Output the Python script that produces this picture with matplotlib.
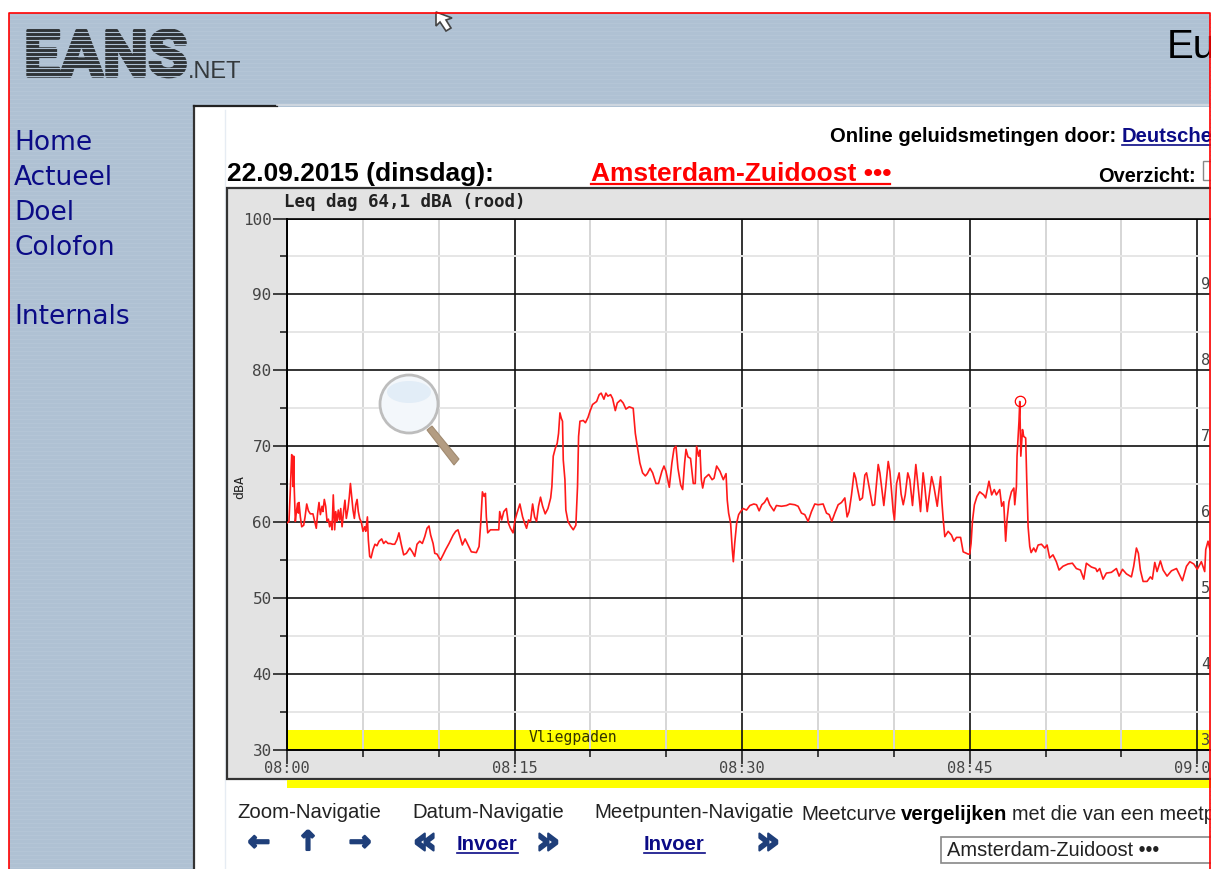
import matplotlib
matplotlib.use("Agg")
import matplotlib.pyplot as plt
import matplotlib.patheffects as pe
from matplotlib.patches import Rectangle, Circle, Polygon, Ellipse

# minutes after 08:00 and level in dBA
minutes = [0.00,0.13,0.22,0.31,0.35,0.40,0.44,0.48,0.55,0.62,0.70,0.75,0.79,0.88,0.97,1.10,1.19,1.30,1.41,1.54,
    1.71,1.85,1.93,2.02,2.11,2.20,2.31,2.37,2.46,2.55,2.64,2.73,2.81,2.90,2.97,3.05,3.14,3.21,3.30,3.38,
    3.47,3.54,3.63,3.74,3.82,3.91,4.02,4.11,4.18,4.26,4.35,4.44,4.53,4.62,4.70,4.79,4.90,5.01,5.12,5.19,
    5.30,5.36,5.45,5.54,5.67,5.80,5.93,6.07,6.24,6.37,6.51,6.66,6.81,6.95,7.10,7.25,7.38,7.52,7.69,7.87,
    8.09,8.26,8.42,8.57,8.75,8.92,9.08,9.23,9.36,9.47,9.63,9.74,9.89,10.11,10.29,10.46,10.68,10.95,11.12,11.27,
    11.43,11.56,11.74,11.93,12.15,12.48,12.66,12.77,12.88,12.99,13.08,13.14,13.23,13.41,13.69,13.96,14.02,14.15,14.29,14.46,
    14.59,14.73,14.90,15.03,15.16,15.35,15.53,15.66,15.79,15.92,16.05,16.19,16.32,16.45,16.58,16.71,16.85,17.02,17.20,17.38,
    17.46,17.55,17.68,17.81,17.90,17.99,18.08,18.16,18.21,18.32,18.38,18.52,18.69,18.87,19.04,19.15,19.22,19.31,19.53,19.67,
    19.84,19.97,20.14,20.41,20.58,20.71,20.89,21.02,21.15,21.33,21.46,21.64,21.77,21.99,22.16,22.34,22.56,22.82,22.96,23.09,
    23.26,23.44,23.62,23.75,23.93,24.10,24.32,24.49,24.71,24.85,24.98,25.20,25.37,25.51,25.64,25.77,25.95,26.08,26.21,26.30,
    26.43,26.60,26.78,26.91,27.00,27.13,27.22,27.31,27.40,27.53,27.80,28.02,28.15,28.32,28.54,28.76,28.94,29.02,29.11,29.24,
    29.35,29.42,29.51,29.64,29.77,29.90,30.07,30.29,30.51,30.77,30.95,31.12,31.30,31.47,31.65,31.82,32.09,32.26,32.59,32.92,
    33.14,33.47,33.69,33.91,34.13,34.35,34.57,34.79,35.01,35.34,35.56,35.74,35.91,36.11,36.33,36.55,36.77,36.92,37.05,37.21,
    37.38,37.49,37.58,37.76,37.93,38.09,38.20,38.33,38.59,38.73,38.97,39.08,39.34,39.47,39.63,39.74,39.96,40.04,40.18,40.35,
    40.48,40.62,40.75,40.92,41.05,41.23,41.45,41.58,41.76,41.93,42.04,42.20,42.49,42.64,42.86,43.08,43.16,43.25,43.36,43.58,
    43.80,43.96,44.13,44.40,44.57,44.90,45.00,45.09,45.18,45.31,45.48,45.66,45.92,46.05,46.27,46.45,46.62,46.76,46.98,47.11,
    47.24,47.37,47.46,47.59,47.75,47.91,47.97,48.08,48.12,48.25,48.30,48.37,48.48,48.56,48.69,48.76,48.85,48.96,49.05,49.22,
    49.35,49.51,49.73,49.95,50.10,50.27,50.49,50.71,50.89,51.15,51.48,51.77,52.03,52.30,52.52,52.69,53.02,53.31,53.40,53.57,
    53.79,54.01,54.34,54.67,54.85,55.07,55.33,55.66,55.81,55.99,56.12,56.25,56.43,56.69,56.91,57.04,57.20,57.35,57.57,57.75,
    58.01,58.30,58.63,59.02,59.29,59.51,59.77,60.00,60.27,60.49,60.56,60.71,60.84]
dba = [59.9,60.1,64.3,68.9,68.2,64.7,68.7,64.3,60.1,61.4,62.5,61.2,62.6,60.7,59.4,59.6,60.7,62.4,61.5,61.1,
    61.1,59.9,59.2,61.2,62.6,61.0,62.1,61.4,63.0,62.1,60.1,60.4,59.4,60.1,59.0,63.6,59.0,61.4,60.1,61.6,
    60.3,61.8,59.4,61.6,62.9,60.5,61.8,63.4,65.1,63.4,61.6,60.5,62.3,63.0,61.4,60.5,60.0,58.8,59.4,58.8,
    60.7,57.7,55.5,55.3,56.4,57.1,56.9,57.5,57.8,57.2,57.5,57.2,57.2,57.1,57.1,57.7,58.6,57.2,55.7,55.9,
    56.6,56.1,55.5,57.1,57.5,57.2,58.1,59.2,59.5,58.3,57.2,55.9,55.8,55.0,55.7,56.4,57.2,58.3,58.8,59.0,
    57.9,57.0,57.8,57.0,56.1,56.0,56.8,59.9,64.0,63.4,63.8,60.7,58.6,59.0,59.0,59.0,61.4,60.3,61.4,61.8,
    59.9,59.2,58.6,60.3,61.2,62.4,60.7,59.9,59.2,60.3,60.1,62.4,60.7,60.1,62.1,63.3,62.1,61.1,61.8,63.2,
    64.7,68.7,69.7,70.4,71.7,74.4,73.7,73.3,68.2,65.6,61.6,60.1,59.5,59.0,59.6,64.7,71.3,73.3,73.4,73.1,
    73.8,74.6,75.5,75.9,76.8,77.0,76.2,77.0,76.6,76.8,76.3,74.7,75.7,76.1,75.7,74.9,75.2,75.0,71.7,70.0,
    67.8,66.5,66.1,66.4,67.1,66.5,65.1,65.1,66.7,67.4,66.7,64.6,67.8,69.7,70.0,67.1,64.9,64.3,67.8,69.6,
    68.6,68.4,65.1,65.1,70.0,68.7,69.5,65.6,64.5,65.8,66.3,65.6,65.8,67.4,66.7,65.6,66.4,62.9,61.2,59.9,
    56.4,54.8,57.2,59.9,61.0,61.4,61.8,61.6,62.2,62.4,62.3,61.5,62.3,62.6,63.2,62.3,61.5,62.2,62.1,62.2,
    62.4,62.3,62.1,61.2,61.0,60.1,61.4,62.4,62.3,62.4,61.2,61.0,60.1,61.2,62.3,62.6,63.2,60.7,61.4,63.6,
    66.5,65.8,64.7,62.9,63.2,66.2,66.5,65.1,62.2,62.3,67.6,66.5,62.2,64.7,68.0,66.7,61.4,60.3,65.1,66.5,
    63.7,62.3,63.6,66.5,65.6,62.2,67.6,65.1,61.4,66.5,64.7,61.4,66.0,64.7,62.1,66.0,62.9,60.5,58.1,58.8,
    58.3,57.5,58.0,58.0,56.1,55.8,55.8,57.2,60.1,62.3,63.4,64.0,63.6,63.2,65.4,63.6,64.3,63.6,64.3,62.1,
    62.7,57.5,60.3,62.7,64.0,64.5,62.3,64.7,68.7,73.3,75.9,68.7,72.2,71.3,71.1,65.6,59.4,56.8,56.0,56.6,
    56.1,57.0,57.1,56.6,57.0,55.3,55.7,54.8,53.7,54.2,54.5,54.6,53.9,53.7,52.5,54.6,54.1,53.9,53.5,53.9,
    52.5,53.3,53.4,53.9,52.9,53.8,53.2,52.8,54.2,56.6,55.9,53.7,52.2,52.2,52.8,52.5,54.7,53.5,54.9,53.7,
    52.9,53.6,53.9,52.3,54.2,54.8,54.5,53.8,54.8,53.5,56.4,57.5,56.4]
peak_minute = [48.30]
peak_dba = [76.0]

y_major = [30, 40, 50, 60, 70, 80, 90, 100]
y_minor = [35, 45, 55, 65, 75, 85, 95]
x_major = [0, 15, 30, 45, 60]
x_minor = [5, 10, 20, 25, 35, 40, 50, 55]
x_labels = ["08:00", "08:15", "08:30", "08:45", "09:00"]
right_labels = [90, 80, 70, 60, 50, 40, 30]
menu_items = ["Home", "Actueel", "Doel", "Colofon", "Internals"]
menu_y = [143, 178, 213, 248, 317]

BLUE = "#afc1d3"
NAVY = "#0b0b86"
ARROW = "#1f3f7a"
SANS = ["Liberation Sans", "DejaVu Sans"]
MONO = "DejaVu Sans Mono"

fig = plt.figure(figsize=(12.18, 8.69), dpi=100, facecolor="white")

# page furniture, in screenshot pixels
page = fig.add_axes([0, 0, 1, 1], zorder=0)
page.set_xlim(0, 1218)
page.set_ylim(869, 0)
page.axis("off")

page.add_patch(Rectangle((9, 13), 1201, 856, fc=BLUE, ec="none"))
for y in range(15, 869, 4):
    page.plot([9, 1210], [y, y], color="#b5c6d7", lw=0.6, zorder=1)

# logo
page.text(24, 76, "EANS", family=["Roboto", "Liberation Sans"], weight="bold", fontsize=46,
    color="#2e3336", va="baseline", zorder=2,
    path_effects=[pe.withStroke(linewidth=2.5, foreground="#2e3336")])
for y in range(28, 80, 4):
    page.plot([20, 190], [y, y], color=BLUE, lw=0.8, zorder=3)
page.text(188, 78, ".NET", family=SANS, fontsize=17, color="#34393c", va="baseline", zorder=3)
page.text(1167, 47, "Eu", family=SANS, fontsize=29, color="black", va="center", zorder=3)

for name, y in zip(menu_items, menu_y):
    page.text(14, y, name, family="DejaVu Sans", fontsize=19, color=NAVY, va="center", zorder=3)

# white content panel
page.add_patch(Rectangle((195, 107), 1015, 762, fc="white", ec="none", zorder=3))
page.plot([194, 194], [106, 869], color="#333333", lw=1.6, zorder=4)
page.plot([194, 277], [106, 106], color="#222222", lw=1.6, zorder=4)
page.plot([277, 1210], [105, 105], color="#d5dbe2", lw=1.2, zorder=4)
page.plot([225, 225], [110, 869], color="#e6ecf3", lw=1, zorder=4)

page.text(830, 136, "Online geluidsmetingen door:", family=SANS, weight="bold", fontsize=14.6, va="center", zorder=5)
page.text(1122, 136, "Deutsche", family=SANS, weight="bold", fontsize=14.6, color=NAVY, va="center", zorder=5)
page.plot([1122, 1210], [145, 145], color=NAVY, lw=1.2, zorder=5)
page.text(227, 174, "22.09.2015 (dinsdag):", family=SANS, weight="bold", fontsize=19, va="center", zorder=5)
page.text(591, 174, "Amsterdam-Zuidoost \u2022\u2022\u2022", family=SANS, weight="bold", fontsize=19, color="#ff0000", va="center", zorder=5)
page.plot([591, 890], [184, 184], color="#ff0000", lw=1.6, zorder=5)
page.text(1098, 176, "Overzicht:", family=SANS, weight="bold", fontsize=14.4, va="center", zorder=5)
page.add_patch(Rectangle((1203, 161), 12, 19, fc="white", ec="#888888", lw=1, zorder=5))

# grey chart background and the yellow strip under it
page.add_patch(Rectangle((227, 188), 990, 591, fc="#e3e3e3", ec="#333333", lw=1.6, zorder=4))
page.add_patch(Rectangle((287, 780), 931, 8, fc="#ffff00", ec="none", zorder=4))
page.text(284, 202, "Leq dag 64,1 dBA (rood)", family=MONO, weight="bold", fontsize=12.6, color="#222222", va="center", zorder=5)
page.text(240, 487, "dBA", family=MONO, fontsize=9.5, color="#222222", rotation=90, ha="center", va="center", zorder=5)

# bottom navigation
page.text(237, 812, "Zoom-Navigatie", family=SANS, fontsize=14.7, color="#222222", va="center", zorder=5)
page.text(412, 812, "Datum-Navigatie", family=SANS, fontsize=14.7, color="#222222", va="center", zorder=5)
page.text(594, 812, "Meetpunten-Navigatie", family=SANS, fontsize=14.7, color="#222222", va="center", zorder=5)
page.text(801, 815, "Meetcurve", family=SANS, fontsize=14.7, color="#222222", va="center", zorder=5)
page.text(901, 815, "vergelijken", family=SANS, weight="bold", fontsize=14.7, color="black", va="center", zorder=5)
page.text(1012, 815, "met die van een meetp", family=SANS, fontsize=14.3, color="#222222", va="center", zorder=5)
heavy = [pe.withStroke(linewidth=1.5, foreground=ARROW)]
for glyph, x, size in [("\u2190", 259, 19), ("\u2191", 308, 19), ("\u2192", 360, 19),
        ("\u00ab", 425, 27), ("\u00bb", 548, 27), ("\u00bb", 768, 27)]:
    page.text(x, 843, glyph, family="DejaVu Sans", weight="bold", fontsize=size, color=ARROW,
        ha="center", va="center", zorder=5, path_effects=heavy)
for x0, x1 in [(457, 518), (644, 705)]:
    page.text(x0, 845, "Invoer", family=SANS, weight="bold", fontsize=14.6, color=NAVY, va="center", zorder=5)
    page.plot([x0, x1], [853, 853], color=NAVY, lw=1.2, zorder=5)
page.add_patch(Rectangle((941, 837), 280, 26, fc="white", ec="#888888", lw=1.2, zorder=5))
page.text(947, 851, "Amsterdam-Zuidoost \u2022\u2022\u2022", family=SANS, fontsize=14.4, color="#222222", va="center", zorder=6)

# the measurement plot
ax = fig.add_axes([287 / 1218, 1 - 750 / 869, (1210 - 287) / 1218, (750 - 218.5) / 869], zorder=1)
ax.set_xlim(0, 60.84)
ax.set_ylim(30, 100)
ax.set_axisbelow(True)
ax.axhspan(30, 32.6, color="#ffff00", lw=0, zorder=0.2)
ax.set_xticks(x_major)
ax.set_xticklabels(x_labels, family=MONO, fontsize=11, color="#444444")
ax.set_xticks(x_minor, minor=True)
ax.set_yticks(y_major)
ax.set_yticklabels([str(v) for v in y_major], family=MONO, fontsize=11.5, color="#444444")
ax.set_yticks(y_minor, minor=True)
ax.grid(which="major", color="#111111", lw=1.2)
ax.grid(which="minor", axis="x", color="#d6d6d6", lw=1.4)
ax.grid(which="minor", axis="y", color="#e6e6e6", lw=1.4)
ax.tick_params(which="major", length=10, width=1.2, color="#222222")
ax.tick_params(which="minor", length=5, width=1.2, color="#222222")
ax.tick_params(axis="x", which="major", pad=-2)
ax.tick_params(axis="y", which="major", pad=1)
ax.spines["right"].set_visible(False)
ax.spines["left"].set_linewidth(1.4)
ax.spines["bottom"].set_linewidth(1.4)
ax.spines["top"].set_linewidth(1.2)

ax.plot(minutes, dba, color="#ff1a1a", lw=1.2, zorder=3)
ax.plot(peak_minute, peak_dba, "o", mfc="none", mec="#ff0000", mew=0.9, ms=7.5, zorder=3)
ax.text(15.95, 31.6, "Vliegpaden", family=MONO, fontsize=10.6, color="#333300", ha="left", va="center", zorder=4)
for v in right_labels:
    ax.text(60.25, v + 1.25, str(v), family=MONO, fontsize=11, color="#444444", va="center", clip_on=True, zorder=4)

# things lying on top: magnifier, mouse pointer, right-hand cut and red frame
top = fig.add_axes([0, 0, 1, 1], zorder=2)
top.set_xlim(0, 1218)
top.set_ylim(869, 0)
top.axis("off")
top.patch.set_alpha(0)

top.add_patch(Polygon([(427, 430), (432, 426), (459, 459), (454, 465)], closed=True, fc="#b39c82", ec="#a08a70", lw=0.8))
top.add_patch(Circle((409, 404), 29, fc="#f3f7fb", ec="#bdbdbd", lw=2))
top.add_patch(Ellipse((409, 392), 44, 22, fc="#e2edf7", ec="none"))
top.add_patch(Polygon([(436, 12), (436, 26), (440, 22), (446, 31), (451, 28), (446, 20), (452, 18)],
    closed=True, fc="white", ec="#444444", lw=1.2))

top.add_patch(Rectangle((1211, 0), 7, 869, fc="white", ec="none"))
top.plot([9, 9, 1210, 1210], [869, 13, 13, 869], color="#ff0000", lw=1.2)

fig.savefig("out.png", dpi=100)
